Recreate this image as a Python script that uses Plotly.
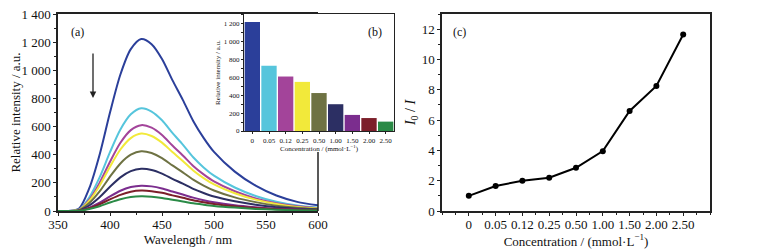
import plotly.graph_objects as go

# ---------------- data ----------------
wavelength = [350, 360, 370, 380, 390, 400, 410, 420, 430, 440, 450, 460, 470,
              480, 490, 500, 520, 540, 560, 580, 600]
spec_0    = [0, 0, 15, 160, 400, 700, 970, 1150, 1222, 1185, 1080, 930, 790, 640, 520, 420, 280, 180, 110, 65, 40]
spec_005  = [0, 0, 9, 96, 239, 418, 579, 687, 730, 707, 645, 555, 472, 382, 310, 251, 167, 107, 66, 39, 24]
spec_012  = [0, 0, 8, 80, 200, 350, 485, 575, 610, 592, 540, 465, 395, 320, 260, 210, 140, 90, 55, 33, 20]
spec_025  = [0, 0, 7, 72, 180, 315, 437, 518, 550, 533, 486, 419, 356, 288, 234, 189, 126, 81, 50, 29, 18]
spec_050  = [0, 0, 5, 56, 139, 244, 338, 400, 425, 412, 376, 324, 275, 223, 181, 146, 97, 63, 38, 23, 14]
spec_100  = [0, 0, 4, 39, 98, 172, 239, 283, 300, 292, 266, 229, 194, 157, 128, 103, 69, 44, 27, 16, 10]
spec_150  = [0, 0, 2, 24, 59, 104, 144, 170, 180, 175, 160, 138, 117, 95, 77, 62, 41, 27, 16, 10, 6]
spec_200  = [0, 0, 2, 19, 48, 83, 115, 137, 145, 141, 129, 111, 94, 76, 62, 50, 33, 21, 13, 8, 5]
spec_250  = [0, 0, 1, 14, 34, 60, 83, 99, 105, 102, 93, 80, 68, 55, 45, 36, 24, 15, 9, 6, 3]
spectra = [spec_0, spec_005, spec_012, spec_025, spec_050, spec_100, spec_150, spec_200, spec_250]

conc_labels = ["0", "0.05", "0.12", "0.25", "0.50", "1.00", "1.50", "2.00", "2.50"]
peak_intensity = [1220, 730, 610, 550, 425, 300, 180, 145, 105]
ratio_I0_I = [1.0, 1.65, 2.0, 2.2, 2.85, 3.95, 6.6, 8.25, 11.65]

colors = ["#2b3f9a", "#56c5dc", "#a3449a", "#f2e93a", "#6e7243",
          "#2c2f63", "#7b2d8e", "#7c1f2a", "#2a8a46"]

FONT = "Liberation Serif"
W, H = 770, 249
OFF = 8  # page body margin offset

def px(x):
    return (x - OFF) / W

def py(y):
    return (H - (y - OFF)) / H

fig = go.Figure()

# panel (a) spectra
for s, c in zip(spectra, colors):
    fig.add_trace(go.Scatter(x=wavelength, y=s, mode="lines",
                             line=dict(color=c, width=2, shape="spline", smoothing=0.8),
                             xaxis="x", yaxis="y", showlegend=False, hoverinfo="skip"))

# panel (b) inset bars
fig.add_trace(go.Bar(x=list(range(len(conc_labels))), y=peak_intensity,
                     marker=dict(color=colors, line=dict(width=0)),
                     xaxis="x2", yaxis="y2", showlegend=False))

# panel (c)
fig.add_trace(go.Scatter(x=list(range(len(conc_labels))), y=ratio_I0_I, mode="lines+markers",
                         line=dict(color="black", width=2),
                         marker=dict(color="black", size=6),
                         xaxis="x3", yaxis="y3", showlegend=False))

axis_common = dict(showgrid=False, zeroline=False, showline=True, linecolor="#222",
                   linewidth=1.5, ticks="outside", tickcolor="#222", tickwidth=1.2,
                   automargin=False, ticklabeloverflow="allow",
                   tickfont=dict(family=FONT, size=13, color="#111"))

ya_ticks = [0, 200, 400, 600, 800, 1000, 1200, 1400]
ya_text = ["0", "200", "400", "600", "800", "1 000", "1 200", "1 400"]
yb_ticks = [0, 200, 400, 600, 800, 1000, 1200]
yb_text = ["0", "200", "400", "600", "800", "1 000", "1 200"]

TITLE_FONT = dict(family=FONT, size=13, color="#111")

fig.update_layout(
    width=W, height=H, margin=dict(l=0, r=0, t=0, b=0, autoexpand=False),
    paper_bgcolor="white", plot_bgcolor="rgba(0,0,0,0)",
    bargap=0.08,
    xaxis=dict(axis_common, domain=[px(58), px(318)], range=[350, 600],
               tickvals=[350, 400, 450, 500, 550, 600], ticklen=3, ticklabelstandoff=-2,
               minor=dict(dtick=25, ticks="outside", ticklen=2, tickcolor="#222"),
               mirror=True, anchor="y",
               title=dict(text="Wavelength / nm", font=TITLE_FONT, standoff=0)),
    yaxis=dict(axis_common, domain=[py(211), py(14)], range=[0, 1400],
               tickvals=ya_ticks, ticktext=ya_text, ticklen=3,
               minor=dict(dtick=100, ticks="outside", ticklen=2, tickcolor="#222"),
               anchor="x",
               title=dict(text="Relative intensity / a.u.", font=TITLE_FONT, standoff=4)),
    xaxis2=dict(axis_common, domain=[px(244), px(394)], range=[-0.5, 8.5],
                tickvals=list(range(len(conc_labels))), ticktext=conc_labels, ticklen=2,
                tickfont=dict(family=FONT, size=7, color="#111"), mirror=True, anchor="y2",
                linewidth=1.2,
                title=dict(text="Concentration / (mmol·L<sup>−1</sup>)", font=dict(family=FONT, size=7, color="#111"), standoff=1)),
    yaxis2=dict(axis_common, domain=[py(131), py(14)], range=[0, 1310],
                tickvals=yb_ticks, ticktext=yb_text, ticklen=2, linewidth=1.2,
                tickfont=dict(family=FONT, size=7, color="#111"),
                minor=dict(dtick=100, ticks="outside", ticklen=1.5, tickcolor="#222"),
                mirror=True, anchor="x2",
                title=dict(text="Relative intensity / a.u.", font=dict(family=FONT, size=7, color="#111"), standoff=2)),
    xaxis3=dict(axis_common, domain=[px(442), px(710)], range=[-1, 9],
                tickvals=list(range(len(conc_labels))), ticktext=conc_labels, ticklen=3, ticklabelstandoff=-2,
                minor=dict(dtick=0.5, ticks="outside", ticklen=2, tickcolor="#222"),
                mirror=True, anchor="y3",
                title=dict(text="Concentration / (mmol·L<sup>−1</sup>)", font=TITLE_FONT, standoff=0)),
    yaxis3=dict(axis_common, domain=[py(211), py(14)], range=[0, 13],
                tickvals=[0, 2, 4, 6, 8, 10, 12], ticklen=3,
                minor=dict(dtick=1, ticks="outside", ticklen=2, tickcolor="#222"),
                mirror=True, anchor="x3",
                title=dict(text="<i>I</i><sub>0</sub> / <i>I</i>", font=dict(family=FONT, size=14, color="#111"), standoff=3)),
)

# right frame segment of panel (a) below the inset
fig.add_shape(type="line", xref="x domain", yref="y domain", x0=1, x1=1, y0=0, y1=0.3,
              line=dict(color="#222", width=1.5))

# panel labels
for txt, xx, yy in [("(a)", 69, 23), ("(b)", 375, 23), ("(c)", 459, 23)]:
    fig.add_annotation(text=txt, xref="paper", yref="paper", x=px(xx), y=py(yy),
                       showarrow=False, font=dict(family=FONT, size=12, color="#111"))

# downward arrow in panel (a)
fig.add_annotation(xref="paper", yref="paper", x=px(93), y=py(98), ax=0, ay=-46,
                   showarrow=True, arrowhead=2, arrowsize=1, arrowwidth=1.3,
                   arrowcolor="#222", text="")

fig.write_html("out.html")
